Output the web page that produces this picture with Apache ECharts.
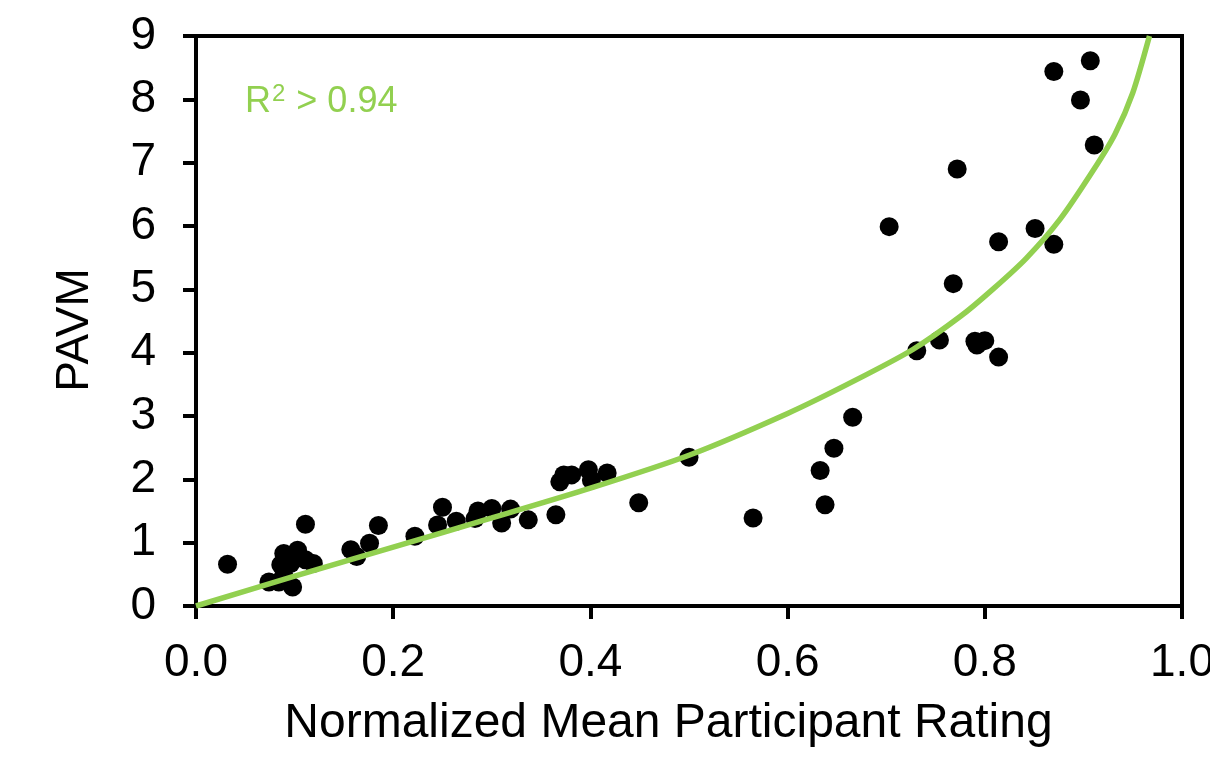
<!DOCTYPE html>
<html>
<head>
<meta charset="utf-8">
<script src="https://cdn.jsdelivr.net/npm/echarts@6/dist/echarts.min.js"></script>
<style>html,body{margin:0;padding:0;background:#fff}#c{width:1210px;height:759px}</style>
</head>
<body>
<div id="c"></div>
<script>
// Observed points (Normalized Mean Participant Rating, PAVM)
const ratingX = [0.032,0.074,0.084,0.086,0.089,0.089,0.096,0.098,0.103,0.111,0.111,0.119,
  0.157,0.163,0.176,0.185,0.222,0.245,0.250,0.264,0.283,0.286,0.300,0.310,0.319,0.337,
  0.365,0.369,0.373,0.381,0.398,0.401,0.417,0.449,0.500,0.565,0.633,0.638,0.647,0.666,
  0.703,0.731,0.754,0.768,0.772,0.790,0.792,0.800,0.814,0.814,0.851,0.870,0.870,0.897,0.907,0.911];
const pavmY = [0.66,0.38,0.38,0.65,0.83,0.49,0.67,0.30,0.88,0.73,1.29,0.67,
  0.89,0.78,0.99,1.27,1.10,1.28,1.56,1.34,1.38,1.50,1.54,1.31,1.53,1.36,
  1.44,1.96,2.07,2.07,2.15,1.99,2.10,1.63,2.35,1.39,2.14,1.60,2.49,2.98,
  5.99,4.03,4.20,5.09,6.90,4.18,4.12,4.19,3.93,5.75,5.96,5.71,8.44,7.99,8.61,7.28];
// Fit curve
const fitX = [0,0.10,0.20,0.30,0.40,0.50,0.60,0.667,0.727,0.775,0.808,0.842,0.876,0.910,0.932,0.950,0.967];
const fitY = [0,0.47,0.93,1.39,1.86,2.38,3.04,3.55,4.05,4.57,5.00,5.49,6.10,6.88,7.45,8.10,9.0];
const xTicks = [0,0.2,0.4,0.6,0.8,1.0];
const yTicks = [0,1,2,3,4,5,6,7,8,9];

const green = '#92D050';
const font = 'Liberation Sans, Arial, sans-serif';
const chart = echarts.init(document.getElementById('c'), null, {renderer:'canvas'});
chart.setOption({
  animation:false,
  backgroundColor:'#fff',
  grid:{left:196,right:28,top:36,bottom:153,outerBoundsMode:'none',containLabel:false,
    show:true,borderColor:'#000',borderWidth:4,backgroundColor:'transparent'},
  xAxis:{type:'value',min:xTicks[0],max:xTicks[xTicks.length-1],interval:0.2,
    name:'Normalized Mean Participant Rating',nameLocation:'middle',nameGap:94,
    nameTextStyle:{fontFamily:font,fontSize:48,color:'#000',padding:[0,41,0,0]},
    axisLine:{lineStyle:{color:'#000',width:4}},
    axisTick:{show:true,inside:false,length:13,lineStyle:{color:'#000',width:4}},
    axisLabel:{fontFamily:font,fontSize:46,color:'#000',margin:34,formatter:v=>v.toFixed(1)},
    splitLine:{show:false}},
  yAxis:{type:'value',min:yTicks[0],max:yTicks[yTicks.length-1],interval:1,
    name:'PAVM',nameLocation:'middle',nameGap:98,nameRotate:90,
    nameTextStyle:{fontFamily:font,fontSize:46,color:'#000',padding:[0,18,0,0]},
    axisLine:{lineStyle:{color:'#000',width:4}},
    axisTick:{show:true,inside:false,length:13,lineStyle:{color:'#000',width:4}},
    axisLabel:{fontFamily:font,fontSize:46,color:'#000',margin:40},
    splitLine:{show:false}},
  graphic:[{type:'text',left:245,top:82,z:100,
    style:{text:'{a|R}{s|2}{a| > 0.94}',fontFamily:font,fontSize:36,fill:green,
      rich:{a:{fontFamily:font,fontSize:36,fill:green,color:green,lineHeight:38,verticalAlign:'bottom'},
            s:{fontFamily:font,fontSize:24,fill:green,color:green,lineHeight:38,verticalAlign:'top',padding:[0,1,0,1]}}}}],
  series:[
    {type:'scatter',data:ratingX.map((x,i)=>[x,pavmY[i]]),symbol:'circle',symbolSize:19,
     itemStyle:{color:'#000',opacity:1},z:2},
    {type:'line',data:fitX.map((x,i)=>[x,fitY[i]]),showSymbol:false,smooth:0.25,
     lineStyle:{color:green,width:5.5},z:3}
  ]
});
</script>
</body>
</html>
